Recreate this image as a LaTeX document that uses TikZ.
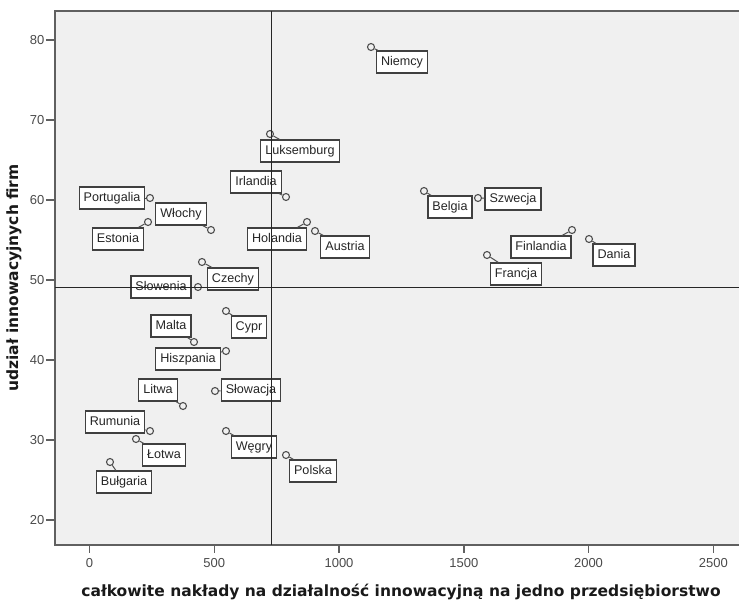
\documentclass[tikz,border=0pt]{standalone}
\usepackage{fontspec}
\setmainfont{Liberation Sans}
\newfontfamily\titlefont{DejaVu Sans}
\definecolor{plotbg}{HTML}{F0F0F0}
\definecolor{framec}{HTML}{606060}
\definecolor{boxc}{HTML}{404040}
\definecolor{ptc}{HTML}{505050}
\definecolor{tickc}{HTML}{4A4A4A}
\tikzset{
  pt/.style={circle, draw=ptc, line width=1.1pt, minimum size=7pt, inner sep=0pt},
  lbl/.style={draw=boxc, line width=1.2pt, fill=white, font=\fontsize{12.6}{12.6}\selectfont,
    inner xsep=4.5pt, inner ysep=0pt, minimum height=22pt, text height=9.3pt, text depth=2.6pt, text=black!85},
  lead/.style={draw=ptc, line width=1pt},
  ticklbl/.style={font=\fontsize{13}{13}\selectfont, text=tickc, inner sep=0pt},
  refline/.style={draw=black!85, line width=0.9pt},
  axisline/.style={draw=framec, line width=1.6pt},
  tickmark/.style={draw=framec, line width=1.4pt},
  axtitle/.style={font=\titlefont\bfseries\fontsize{15.5}{15.5}\selectfont, text=black!90, inner sep=0pt}
}
\begin{document}
\begin{tikzpicture}[x=1pt,y=-1pt]
\useasboundingbox (0,0) rectangle (739,603);
% plot area
\fill[plotbg] (55,11) rectangle (739,545);
\draw[axisline] (739,11) -- (55,11) -- (55,545) -- (739,545);
% y ticks
\foreach \v/\yy in {80/40,70/120,60/200,50/280,40/360,30/440,20/520}{
  \draw[tickmark] (46,\yy) -- (55,\yy);
  \node[ticklbl, anchor=east] (yt\v) at (44.5,\yy) {\v};
}
% x ticks
\foreach \v/\xx in {0/89.5,500/214.3,1000/339,1500/463.8,2000/588.5,2500/713.3}{
  \draw[tickmark] (\xx,545) -- (\xx,553);
  \node[ticklbl] (xt\v) at (\xx,563.5) {\v};
}
% axis titles
\node[axtitle, rotate=90] (ytitle) at (14,278) {udział innowacyjnych firm};
\node[axtitle] (xtitle) at (401,592) {całkowite nakłady na działalność innowacyjną na jedno przedsiębiorstwo};
% points and labels
\foreach \n/\px/\py/\lx/\ly/\t in {
  Niemcy/371/47/402/62/Niemcy,
  Luksemburg/270/134/300/151/Luksemburg,
  Irlandia/286/197/256/182/Irlandia,
  Portugalia/150/198/112/198/Portugalia,
  Wlochy/211/230/181/214/Włochy,
  Estonia/148/222/118/239/Estonia,
  Czechy/202/262/233/279/Czechy,
  Slowenia/198/287/161/287/Słowenia,
  Holandia/307/222/277/239/Holandia,
  Austria/315/231/345/247/Austria,
  Belgia/424/191/450/207/Belgia,
  Szwecja/478/198/513/199/Szwecja,
  Finlandia/572/230/541/247/Finlandia,
  Dania/589/239/614/255/Dania,
  Francja/487/255/516/274/Francja,
  Cypr/226/311/249/327/Cypr,
  Malta/194/342/171/326/Malta,
  Hiszpania/226/351/188/359/Hiszpania,
  Litwa/183/406/158/390/Litwa,
  Slowacja/215/391/251/390/Słowacja,
  Rumunia/150/431/115/422/Rumunia,
  Lotwa/136/439/164/455/Łotwa,
  Bulgaria/110/462/124/482/Bułgaria,
  Wegry/226/431/254/447/Węgry,
  Polska/286/455/313/471/Polska}{
  \node[lbl] (l\n) at (\lx,\ly) {\t};
  \node[pt] (p\n) at (\px,\py) {};
  \draw[lead] (p\n) -- (l\n);
}
% reference lines
\draw[refline] (271,11) -- (271,545);
\draw[refline] (55,287) -- (739,287);
\end{tikzpicture}
\end{document}
